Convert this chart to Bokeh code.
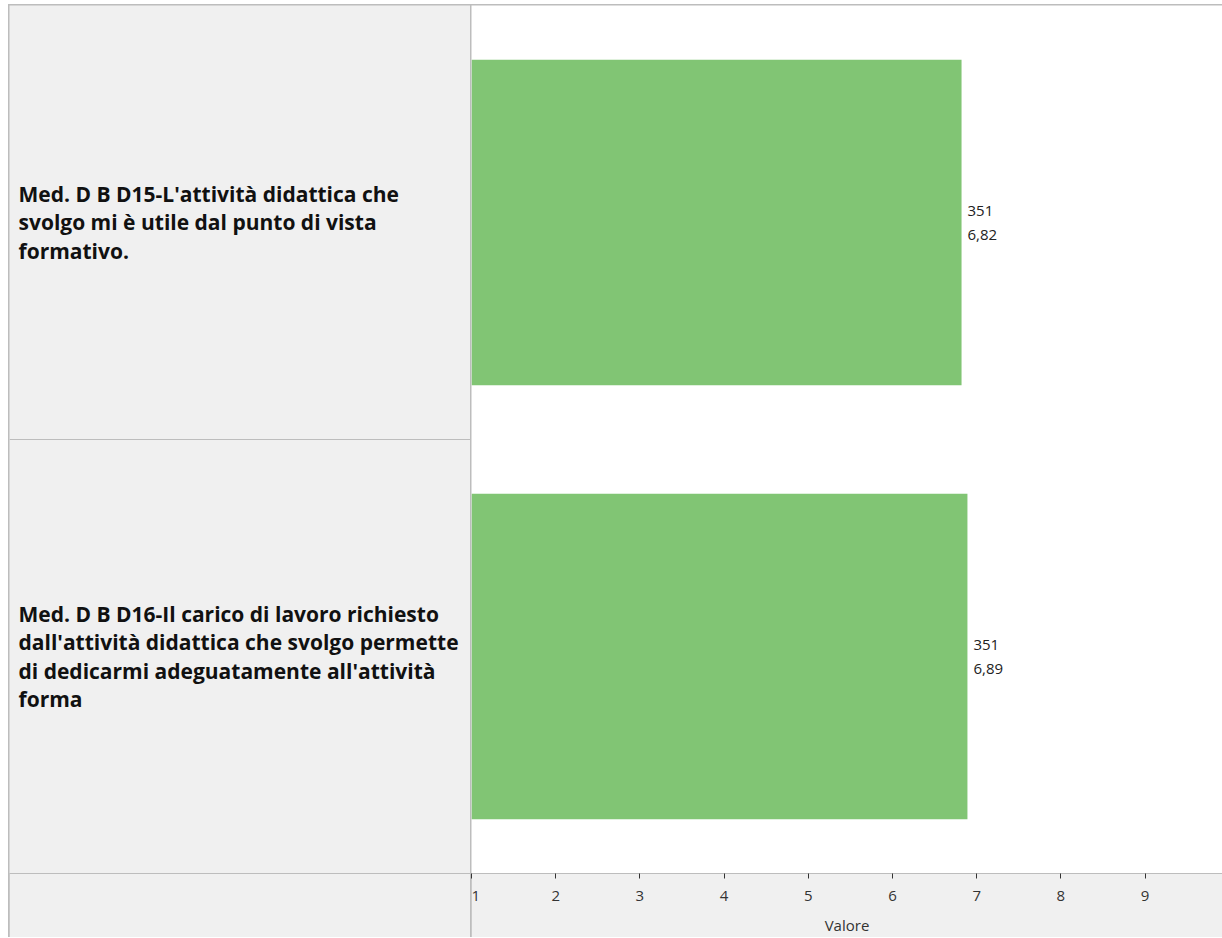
from bokeh.plotting import figure
from bokeh.layouts import row
from bokeh.models import ColumnDataSource, Range1d, FactorRange, FixedTicker
from bokeh.core.properties import value
from bokeh.embed import file_html
from bokeh.resources import INLINE

# ---- data ----
categories = [
    "Med. D B D15-L'attività didattica che svolgo mi è utile dal punto di vista formativo.",
    "Med. D B D16-Il carico di lavoro richiesto dall'attività didattica che svolgo permette di dedicarmi adeguatamente all'attività forma",
]
display_labels = [
    "Med. D B D15-L'attività didattica che\nsvolgo mi è utile dal punto di vista\nformativo.",
    "Med. D B D16-Il carico di lavoro richiesto\ndall'attività didattica che svolgo permette\ndi dedicarmi adeguatamente all'attività\nforma",
]
counts = [351, 351]
means = [6.82, 6.89]
x_ticks = [1, 2, 3, 4, 5, 6, 7, 8, 9, 10]
axis_title = "Valore"

# ---- style ----
FONT = "Open Sans"
PANEL = "#f0f0f0"
BORDER = "#bdbdbd"
BAR = "#81c574"
TOTAL_H = 932
LEFT_W = 461
MAIN_W = 751
BOTTOM = 64
PX_PER_UNIT = 84.2

src = ColumnDataSource(dict(
    cat=categories,
    label=display_labels,
    count=[str(c) for c in counts],
    mean=means,
    mean_txt=[f"{m:.2f}".replace(".", ",") for m in means],
    zero=[0] * len(categories),
))

y_range = FactorRange(factors=list(reversed(categories)), range_padding=0)

# left panel with category labels
left = figure(width=LEFT_W, height=TOTAL_H, x_range=Range1d(0, 1), y_range=y_range,
              output_backend="svg", toolbar_location=None, y_axis_location=None,
              min_border_left=0, min_border_right=0, min_border_top=0,
              min_border_bottom=BOTTOM, margin=(1, 0, 0, 1))
left.background_fill_color = PANEL
left.border_fill_color = PANEL
left.outline_line_color = None
left.grid.visible = False
lax = left.xaxis[0]
lax.axis_line_color = BORDER
lax.major_tick_line_color = None
lax.minor_tick_line_color = None
lax.major_label_text_color = None
left.text(x="zero", y="cat", text="label", source=src, x_offset=9, y_offset=0,
          text_font=value(FONT), text_font_style="bold", text_font_size="21px",
          text_color="#111111", text_align="left", text_baseline="middle",
          text_line_height=1.02)
left.hspan(y=[1], line_color=BORDER, line_width=1)

# main chart
x_end = 1 + MAIN_W / PX_PER_UNIT
p = figure(width=MAIN_W, height=TOTAL_H, x_range=Range1d(1, x_end), y_range=y_range,
           output_backend="svg", toolbar_location=None, y_axis_location=None,
           min_border_left=0, min_border_right=0, min_border_top=0,
           min_border_bottom=BOTTOM, margin=(1, 0, 0, 1))
p.background_fill_color = "white"
p.border_fill_color = PANEL
p.outline_line_color = None
p.grid.visible = False

p.hbar(y="cat", left=1, right="mean", height=0.75, source=src,
       fill_color=BAR, line_color=None)
p.text(x="mean", y="cat", text="count", source=src, x_offset=6, y_offset=-12,
       text_font=value(FONT), text_font_size="15px", text_color="#222222",
       text_align="left", text_baseline="middle")
p.text(x="mean", y="cat", text="mean_txt", source=src, x_offset=6, y_offset=12,
       text_font=value(FONT), text_font_size="15px", text_color="#222222",
       text_align="left", text_baseline="middle")

ax = p.xaxis[0]
ax.ticker = FixedTicker(ticks=x_ticks)
ax.axis_line_color = BORDER
ax.major_tick_line_color = "#333333"
ax.major_tick_in = 0
ax.major_tick_out = 5
ax.minor_tick_line_color = None
ax.major_label_text_font = FONT
ax.major_label_text_font_size = "15px"
ax.major_label_text_color = "#333333"
ax.major_label_standoff = 12
ax.axis_label = axis_title
ax.axis_label_text_font = FONT
ax.axis_label_text_font_size = "15px"
ax.axis_label_text_font_style = "normal"
ax.axis_label_text_color = "#333333"
ax.axis_label_standoff = 11

layout = row(left, p, spacing=0, margin=(4, 0, 0, 8),
             styles={"background-color": BORDER})
open("out.html", "w").write(file_html(layout, INLINE))
